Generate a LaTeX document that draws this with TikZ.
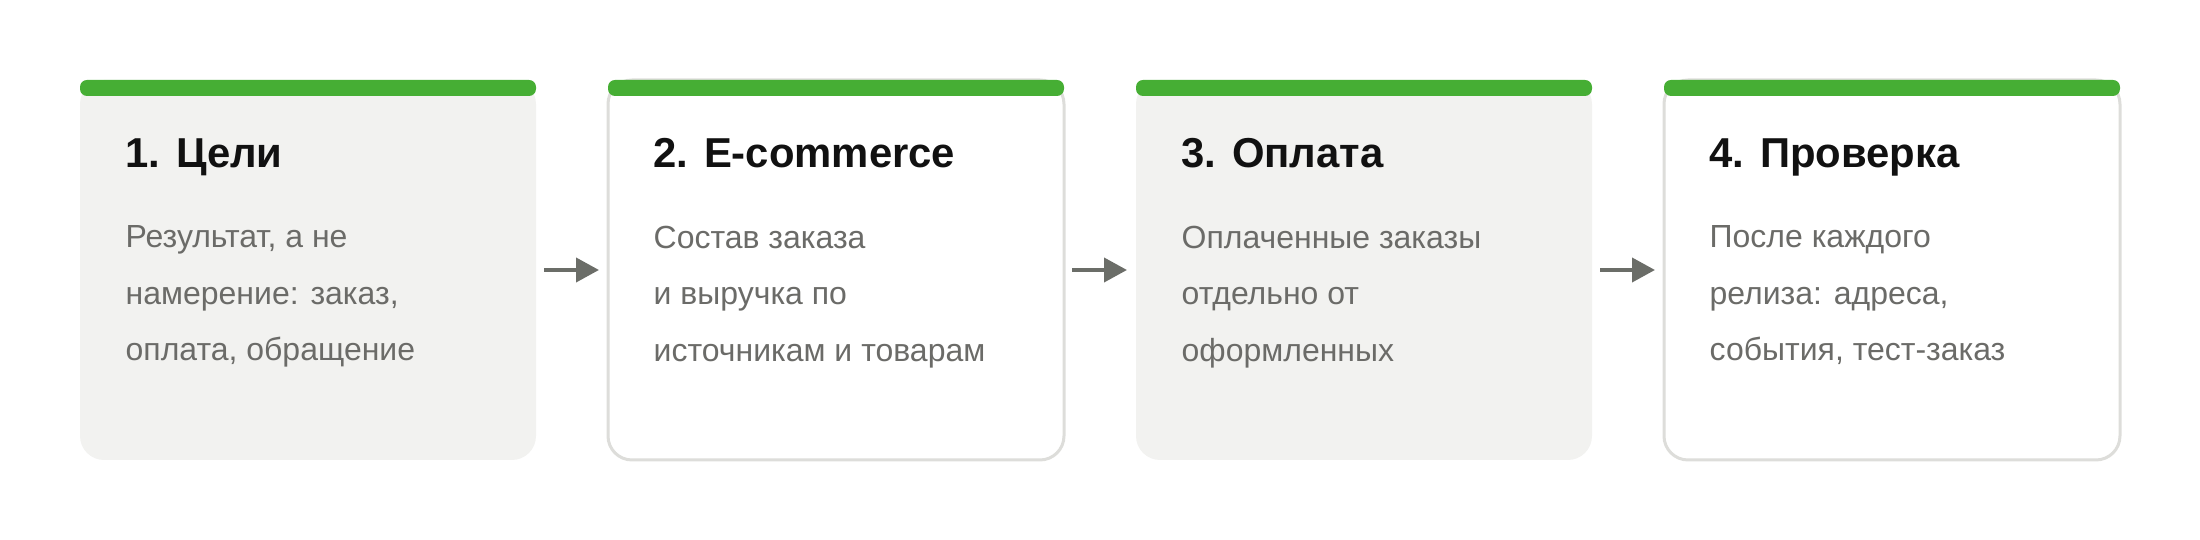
\documentclass[tikz,border=0pt]{standalone}
\usepackage{fontspec}
\setmainfont{Liberation Sans}
\usetikzlibrary{positioning,arrows.meta}
\definecolor{barGreen}{HTML}{46AE34}
\definecolor{cardFill}{HTML}{F2F2F0}
\definecolor{cardLine}{HTML}{DDDDDA}
\definecolor{titleInk}{HTML}{111111}
\definecolor{bodyInk}{HTML}{6B6B68}
\definecolor{arrowInk}{HTML}{6B6D68}
\begin{document}
\begin{tikzpicture}[x=0.1mm, y=-0.1mm,
    card/.style={rounded corners=2.4mm, minimum width=45.6mm, minimum height=38mm, inner sep=0pt, outer sep=0pt, anchor=north west},
    greycard/.style={card, fill=cardFill},
    whitecard/.style={card, fill=white, draw=cardLine, line width=0.3mm},
    steptitle/.style={anchor=base west, inner sep=0pt, text=titleInk, font=\fontsize{11.9}{14}\selectfont\bfseries},
    stepbody/.style={anchor=north west, inner sep=0pt, align=left, text=bodyInk, font=\fontsize{9.1}{16.1}\selectfont},
    flow/.style={-{Triangle[length=2.3mm,width=2.4mm]}, line width=0.4mm, draw=arrowInk, shorten <=0.8mm, shorten >=0.9mm}]
    \useasboundingbox (0,0) rectangle (2200,540);

    % cards
    \node[greycard] (c1) at (80,80) {};
    \node[whitecard, right=7.2mm of c1] (c2) {};
    \node[greycard, right=7.2mm of c2] (c3) {};
    \node[whitecard, right=7.2mm of c3] (c4) {};

    \foreach \c in {c1,c2,c3,c4}
      \fill[barGreen, rounded corners=0.7mm] (\c.north west) rectangle ([yshift=-1.6mm]\c.north east);

    % texts
    \node[steptitle] (t1) at ([xshift=4.5mm,yshift=-8.8mm]c1.north west) {1. Цели};
    \node[stepbody] (d1) at ([xshift=4.5mm,yshift=-14.5mm]c1.north west) {Результат, а не\\намерение: заказ,\\оплата, обращение};
    \node[steptitle] (t2) at ([xshift=4.5mm,yshift=-8.8mm]c2.north west) {2. E-commerce};
    \node[stepbody] (d2) at ([xshift=4.5mm,yshift=-14.5mm]c2.north west) {Состав заказа\\и выручка по\\источникам и товарам};
    \node[steptitle] (t3) at ([xshift=4.5mm,yshift=-8.8mm]c3.north west) {3. Оплата};
    \node[stepbody] (d3) at ([xshift=4.5mm,yshift=-14.5mm]c3.north west) {Оплаченные заказы\\отдельно от\\оформленных};
    \node[steptitle] (t4) at ([xshift=4.5mm,yshift=-8.8mm]c4.north west) {4. Проверка};
    \node[stepbody] (d4) at ([xshift=4.5mm,yshift=-14.5mm]c4.north west) {После каждого\\релиза: адреса,\\события, тест-заказ};

    % arrows
    \foreach \a/\b in {c1/c2,c2/c3,c3/c4}
      \draw[flow] (\a.east) -- (\b.west);
  \end{tikzpicture}
\end{document}
